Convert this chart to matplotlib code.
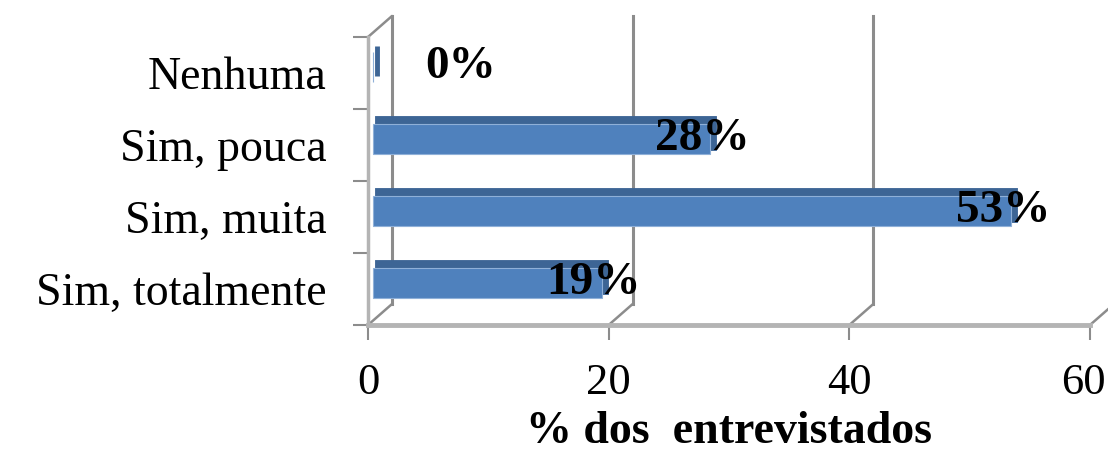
import matplotlib.pyplot as plt
import matplotlib.transforms as mtransforms

categories = ['Sim, totalmente', 'Sim, muita', 'Sim, pouca', 'Nenhuma']
values = [19, 53, 28, 0]
value_labels = ['19%', '53%', '28%', '0%']
x_ticks = [0, 20, 40, 60]


def main():
    plt.rcParams['font.family'] = ['Liberation Serif', 'DejaVu Serif']

    fig = plt.figure(figsize=(11.08, 4.58), dpi=100)
    ax = fig.add_axes([368 / 1108, 133 / 458, 722 / 1108, 288 / 458])
    ax.set_xlim(0, 60)
    ax.set_ylim(-0.5, len(categories) - 0.5)

    grey = '#8c8c8c'
    light = '#b4b4b4'

    # back wall (pseudo 3D): same data coords shifted right/up
    back = mtransforms.offset_copy(ax.transData, fig=fig, x=24, y=21, units='dots')
    ymin, ymax = ax.get_ylim()
    for x in x_ticks:
        ax.plot([x, x], [ymin, ymax], color=grey, lw=2.2, transform=back,
                clip_on=False, zorder=1)
        # diagonal from the front floor to the back wall
        ax.annotate('', xy=(x, ymin), xycoords=back, xytext=(x, ymin),
                    textcoords=ax.transData,
                    arrowprops=dict(arrowstyle='-', color=grey, lw=1.8,
                                    shrinkA=0, shrinkB=0), zorder=1)
    ax.annotate('', xy=(0, ymax), xycoords=back, xytext=(0, ymax),
                textcoords=ax.transData,
                arrowprops=dict(arrowstyle='-', color=grey, lw=1.8,
                                shrinkA=0, shrinkB=0), zorder=1)

    # bars: dark extruded top plus front face, sitting mid-depth
    mid = mtransforms.offset_copy(ax.transData, fig=fig, x=5, y=6, units='dots')
    top = mtransforms.offset_copy(ax.transData, fig=fig, x=9, y=12, units='dots')
    ypos = list(range(len(categories)))
    ax.barh(ypos, values, height=0.42, color='#3d6595', edgecolor='#3d6595',
            lw=3.5, transform=top, zorder=3)
    ax.barh(ypos, values, height=0.42, color='#4f81bd', edgecolor='#8fb0d8',
            lw=0.8, transform=mid, zorder=4)

    for y, v, lab in zip(ypos, values, value_labels):
        dx = 88 if v == 0 else -8
        ax.annotate(lab, xy=(v, y), xycoords=mid, xytext=(dx, 0),
                    textcoords='offset pixels', ha='center', va='center',
                    fontsize=34, fontweight='bold', color='black', zorder=6)

    ax.spines['top'].set_visible(False)
    ax.spines['right'].set_visible(False)
    ax.spines['left'].set_color(light)
    ax.spines['left'].set_linewidth(2.5)
    ax.spines['bottom'].set_color(light)
    ax.spines['bottom'].set_linewidth(3.5)

    ax.set_xticks(x_ticks)
    ax.set_xticklabels([str(t) for t in x_ticks])
    ax.tick_params(axis='x', length=11, width=1.5, color=grey, pad=16,
                   labelsize=32)
    # last label sits at the figure edge, nudge it in a little
    last = ax.get_xticklabels()[-1]
    last.set_transform(last.get_transform() +
                       mtransforms.ScaledTranslation(-0.07, 0, fig.dpi_scale_trans))

    ax.set_yticks(ypos)
    ax.set_yticklabels(categories)
    ax.tick_params(axis='y', which='major', length=0, pad=30, labelsize=33)
    ax.set_yticks([p - 0.5 for p in ypos] + [ymax], minor=True)
    ax.tick_params(axis='y', which='minor', length=11, width=1.5, color=grey)

    ax.set_xlabel('% dos  entrevistados', fontsize=33, fontweight='bold',
                  labelpad=6)

    fig.savefig('out.png', dpi=100)


if __name__ == "__main__":
    main()
